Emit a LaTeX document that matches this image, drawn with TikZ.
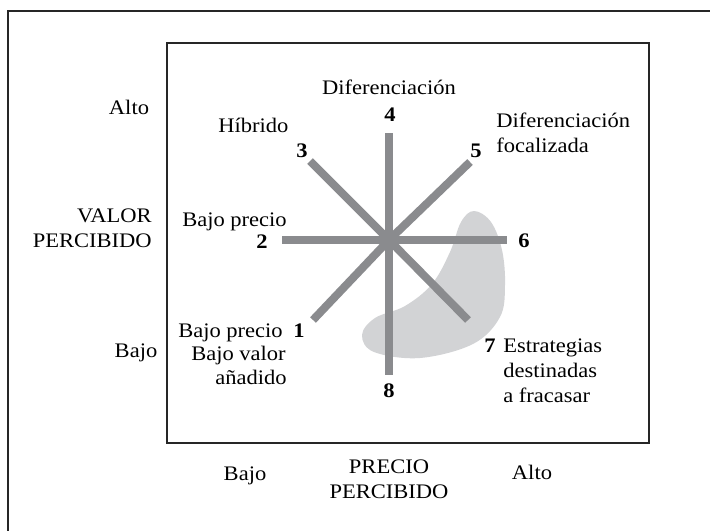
\documentclass[tikz,border=0pt]{standalone}
\usepackage{fontspec}
\setmainfont{Liberation Serif}[FakeStretch=1.09]
\definecolor{spokegray}{RGB}{138,139,142}
\definecolor{blobgray}{RGB}{210,211,213}

\begin{document}
\begin{tikzpicture}[x=0.75pt,y=-0.75pt,
  spoke/.style={line width=6pt,color=spokegray},
  lbl/.style={inner sep=0pt,font=\fontsize{15.5}{18}\selectfont},
  num/.style={inner sep=0pt,font=\fontsize{15.5}{18}\selectfont\bfseries}]
  \useasboundingbox (0,0) rectangle (710,531);

  % frames
  \draw[line width=1pt,color=black!85] (8,531) -- (8,11) -- (710,11);
  \draw[line width=0.8pt,color=black!85] (167,43) rectangle (649,443);

  % shaded region
  \fill[blobgray] plot[smooth cycle,tension=0.6] coordinates {(474,211) (491,222) (502,250) (505,285) (500,317) (473,344) (420,358) (374,352) (362,335) (375,318) (405,306) (432,284) (450,252) (461,222)};

  % spokes
  \coordinate (c) at (389,240);
  \coordinate (e1) at (313,320);
  \coordinate (e2) at (282,240);
  \coordinate (e3) at (310,161);
  \coordinate (e4) at (389,133);
  \coordinate (e5) at (470,162);
  \coordinate (e6) at (507,240);
  \coordinate (e7) at (468,320);
  \coordinate (e8) at (389,375);
  \foreach \i in {1,...,8}
    \draw[spoke] (c) -- (e\i);

  % numbers
  \node[num,anchor=base] (n1) at (299,337) {1};
  \node[num,anchor=base] (n2) at (262,248) {2};
  \node[num,anchor=base] (n3) at (302,157) {3};
  \node[num,anchor=base] (n4) at (390,122) {4};
  \node[num,anchor=base] (n5) at (476,157) {5};
  \node[num,anchor=base] (n6) at (524,247) {6};
  \node[num,anchor=base] (n7) at (490,352) {7};
  \node[num,anchor=base] (n8) at (389,397) {8};

  % strategy labels
  \node[lbl,anchor=base west] (hib) at (218,133) {Híbrido};
  \node[lbl,anchor=base west] (bp) at (182,226) {Bajo precio};
  \node[lbl,anchor=base] (dif) at (389,95) {Diferenciación};
  \node[lbl,anchor=base west] (dfa) at (496,128) {Diferenciación};
  \node[lbl,anchor=base west] (dfb) at (496,152) {focalizada};
  \node[lbl,anchor=base east] (bva) at (283,337) {Bajo precio};
  \node[lbl,anchor=base east] (bvb) at (286,360) {Bajo valor};
  \node[lbl,anchor=base east] (bvc) at (287,384) {añadido};
  \node[lbl,anchor=base west] (efa) at (503,352) {Estrategias};
  \node[lbl,anchor=base west] (efb) at (503,377) {destinadas};
  \node[lbl,anchor=base west] (efc) at (503,402) {a fracasar};

  % axis labels
  \node[lbl,anchor=base] (va) at (129,115) {Alto};
  \node[lbl,anchor=base east] (vt1) at (152,222) {VALOR};
  \node[lbl,anchor=base east] (vt2) at (152,247) {PERCIBIDO};
  \node[lbl,anchor=base] (vb) at (136,357) {Bajo};
  \node[lbl,anchor=base] (pb) at (245,480) {Bajo};
  \node[lbl,anchor=base] (pt1) at (389,473) {PRECIO};
  \node[lbl,anchor=base] (pt2) at (389,498) {PERCIBIDO};
  \node[lbl,anchor=base] (pa) at (532,479) {Alto};
\end{tikzpicture}
\end{document}
